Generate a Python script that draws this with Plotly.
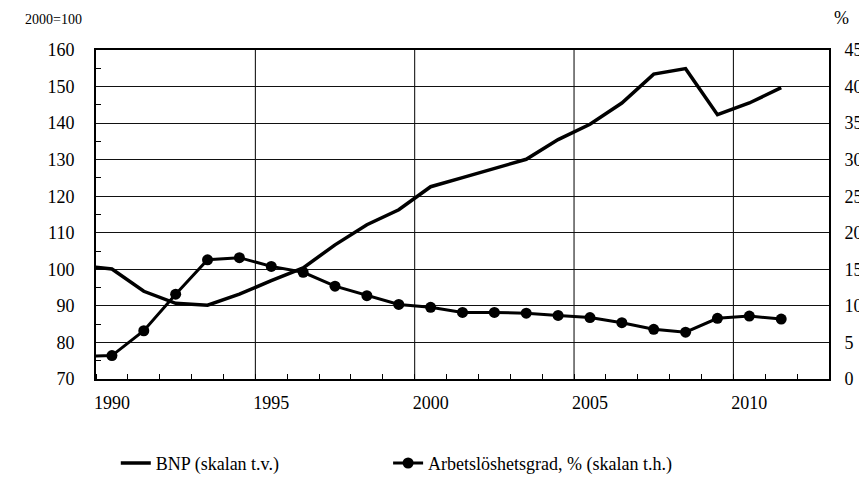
import plotly.graph_objects as go

years = list(range(1989, 2012))
bnp = [101.0, 100.1, 94.0, 90.7, 90.2, 93.2, 96.9, 100.4, 106.7, 112.2, 116.3,
       122.6, 125.1, 127.6, 130.1, 135.5, 139.7, 145.5, 153.4, 154.9, 142.3, 145.5, 149.7]
unemp = [3.1, 3.2, 6.6, 11.6, 16.3, 16.6, 15.4, 14.6, 12.7, 11.4, 10.2,
         9.8, 9.1, 9.1, 9.0, 8.7, 8.4, 7.7, 6.8, 6.4, 8.3, 8.6, 8.2]
tick_years = [1990, 1995, 2000, 2005, 2010]
grid_years = [1994.5, 1999.5, 2004.5, 2009.5]

FONT = "Liberation Serif"

fig = go.Figure()
fig.add_trace(go.Scatter(x=years, y=bnp, name="BNP (skalan t.v.)", mode="lines",
                         line=dict(color="black", width=3.5), yaxis="y", legend="legend"))
fig.add_trace(go.Scatter(x=years, y=unemp, name="Arbetslöshetsgrad, % (skalan t.h.)",
                         mode="lines+markers", line=dict(color="black", width=3),
                         marker=dict(color="black", size=11, symbol="circle"), yaxis="y2",
                         legend="legend2"))

for g in grid_years:
    fig.add_shape(type="line", xref="x", yref="paper", x0=g, x1=g, y0=0, y1=1,
                  line=dict(color="black", width=1), layer="below")

legend_common = dict(orientation="h", y=-0.2, xanchor="left", yanchor="top",
                     font=dict(size=18, family=FONT, color="black"),
                     itemwidth=30, bgcolor="rgba(0,0,0,0)")

fig.update_layout(
    width=867, height=486,
    margin=dict(l=88, r=35, t=42, b=84),
    plot_bgcolor="white", paper_bgcolor="white",
    font=dict(family=FONT, size=18, color="black"),
    showlegend=True,
    legend=dict(x=0.027, **legend_common),
    legend2=dict(x=0.3985, **legend_common),
    xaxis=dict(range=[1989.5, 2012.5], tickvals=tick_years, ticks="",
               ticklabelshift=0, ticklabelstandoff=6,
               showgrid=False, zeroline=False, showline=True, linecolor="black",
               linewidth=2, mirror=True,
               minor=dict(tick0=1989.5, dtick=1, ticks="inside", ticklen=5,
                          tickcolor="black", tickwidth=1, showgrid=False),
               tickfont=dict(size=18, family=FONT, color="black")),
    yaxis=dict(range=[70, 160], dtick=10, showgrid=True, gridcolor="#111111", gridwidth=1,
               zeroline=False, showline=True, linecolor="black", linewidth=2,
               ticks="", ticklabelstandoff=16,
               minor=dict(dtick=5, ticks="inside", ticklen=5, tickcolor="black",
                          tickwidth=1, showgrid=False),
               tickfont=dict(size=18, family=FONT, color="black")),
    yaxis2=dict(range=[0, 45], dtick=5, overlaying="y", side="right", showgrid=False,
                zeroline=False, showline=True, linecolor="black", linewidth=2,
                ticks="", ticklabelstandoff=10,
                tickfont=dict(size=18, family=FONT, color="black")),
    annotations=[
        dict(text="2000=100", xref="paper", yref="paper", x=-0.1, y=1.063,
             xanchor="left", yanchor="bottom", showarrow=False,
             font=dict(size=14, family=FONT, color="black")),
        dict(text="%", xref="paper", yref="paper", x=1.004, y=1.06,
             xanchor="left", yanchor="bottom", showarrow=False,
             font=dict(size=18, family=FONT, color="black")),
    ],
)

fig.write_html("out.html")
